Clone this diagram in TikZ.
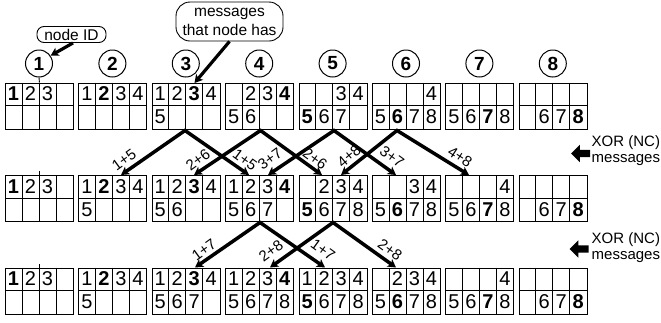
\documentclass[tikz,border=0pt]{standalone}
\usepackage{fontspec}
\setmainfont{Liberation Sans}
\usetikzlibrary{arrows.meta,shapes.arrows}
\newcommand{\drawrow}[3]{%
  \foreach \g/\a/\b in {#3} {
    \pgfmathsetmacro{\xl}{5+(\g-1)*73.4}
    \node[grp] (r#1g\g) at (\xl,#2) {};
    \foreach \k in {1,2,3} \draw[grid] (\xl+17*\k,#2) -- ++(0,46);
    \draw[grid] (\xl,#2+23) -- ++(68,0);
    \foreach \d in {\a,...,\b} {
      \pgfmathtruncatemacro{\mycol}{mod(\d-1,4)}
      \pgfmathtruncatemacro{\myrow}{(\d-1)/4}
      \ifnum\d=\g \def\myff{\bfseries}\else\def\myff{}\fi
      \node[dig] (r#1g\g d\d) at (\xl+8.5+17*\mycol, #2+11.5+23*\myrow) {\myff\d};
    }
  }
}
\begin{document}
\begin{tikzpicture}[x=1pt,y=-1pt,
  grid/.style={line width=0.9pt},
  grp/.style={draw,line width=0.9pt,minimum width=68pt,minimum height=46pt,inner sep=0pt,anchor=north west},
  dig/.style={inner sep=0pt,font=\fontsize{20}{20}\selectfont},
  idc/.style={circle,draw,line width=1pt,minimum size=27pt,inner sep=0pt,font=\fontsize{19}{19}\selectfont\bfseries},
  ncboth/.style={line width=3.5pt,{Stealth[length=8pt,width=9pt,inset=2pt]}-{Stealth[length=8pt,width=9pt,inset=2pt]}},
  ptr/.style={line width=3.2pt,-{Stealth[length=8pt,width=9pt,inset=2pt]}},
  lbl/.style={inner sep=0pt,font=\fontsize{15}{15}\selectfont},
  callout/.style={draw,line width=0.9pt,rounded corners=7pt,inner sep=1pt,font=\fontsize{15.5}{19}\selectfont,align=center},
  note/.style={inner sep=0pt,anchor=base west,font=\fontsize{15}{15}\selectfont},
  blockarrow/.style={single arrow,fill=black,draw=none,shape border rotate=180,minimum height=19pt,minimum width=17pt,single arrow head extend=5pt,inner sep=3.5pt}
]
\useasboundingbox (0,0) rectangle (661,322);

% node id circles
\foreach \g in {1,...,8}
  \node[idc] (id\g) at ({39+(\g-1)*73.4},63.5) {\g};

% three rows of message tables
\drawrow{1}{82.5}{1/1/3,2/1/4,3/1/5,4/2/6,5/3/7,6/4/8,7/5/8,8/6/8}
\drawrow{2}{175}{1/1/3,2/1/5,3/1/6,4/1/7,5/2/8,6/3/8,7/4/8,8/6/8}
\drawrow{3}{267.5}{1/1/3,2/1/5,3/1/7,4/1/8,5/1/8,6/2/8,7/4/8,8/6/8}

% small ticks
\draw[grid] (id1.south) -- (r1g1.north);
\draw[grid] (r2g1.north) -- ++(0,-4);
\draw[grid] (r3g1.north) -- ++(0,-4);

% callouts
\node[callout,minimum width=69pt,minimum height=16pt] (cid) at (71.5,34.5) {node ID};
\node[callout,rounded corners=14pt,minimum width=107pt,minimum height=39pt] (cmsg) at (229.5,21.5) {messages\\that node has};
\coordinate (m3) at (194.5,83);
\draw[ptr] (cid.-80) -- (id1.34);
\draw[ptr] (cmsg.south) -- (m3);

% XOR arrows
\foreach \nm/\x/\y in {P3/185/130.5, P4/260.5/130.5, P5/334/130.5, P6/397/130.5,
  T3a/121/175, T3b/249/175, T4a/194/175, T4b/322/175, T5a/268/175, T5b/396/175, T6a/341/175, T6b/469/175,
  Q4/260/222.5, Q5/333/222.5, U4a/195/267.5, U4b/325/267.5, U5a/270/267.5, U5b/396/267.5}
  \coordinate (\nm) at (\x,\y);
\draw[ncboth] (T3a) -- (P3) -- (T3b);
\draw[ncboth] (T4a) -- (P4) -- (T4b);
\draw[ncboth] (T5a) -- (P5) -- (T5b);
\draw[ncboth] (T6a) -- (P6) -- (T6b);
\draw[ncboth] (U4a) -- (Q4) -- (U4b);
\draw[ncboth] (U5a) -- (Q5) -- (U5b);

\node[lbl,rotate=36] (la1) at (124,160) {1+5};
\node[lbl,rotate=-36] (la2) at (245,160) {1+5};
\node[lbl,rotate=36] (la3) at (198,160) {2+6};
\node[lbl,rotate=-36] (la4) at (315,159) {2+6};
\node[lbl,rotate=36] (la5) at (270,159) {3+7};
\node[lbl,rotate=-36] (la6) at (392,157) {3+7};
\node[lbl,rotate=40] (la7) at (349,156) {4+8};
\node[lbl,rotate=-33] (la8) at (460,157) {4+8};

\node[lbl,rotate=36] (lb1) at (204,250) {1+7};
\node[lbl,rotate=-36] (lb2) at (323,250) {1+7};
\node[lbl,rotate=36] (lb3) at (271,251) {2+8};
\node[lbl,rotate=-36] (lb4) at (390,250) {2+8};

% side notes
\node[blockarrow] (xa1) at (582.5,153.5) {};
\node[note] (xt1) at (591.5,146.5) {XOR (NC)};
\node[note] (xm1) at (591.5,162) {messages};
\node[blockarrow] (xa2) at (581,249) {};
\node[note] (xt2) at (591.5,243) {XOR (NC)};
\node[note] (xm2) at (591.5,259) {messages};
\end{tikzpicture}
\end{document}
